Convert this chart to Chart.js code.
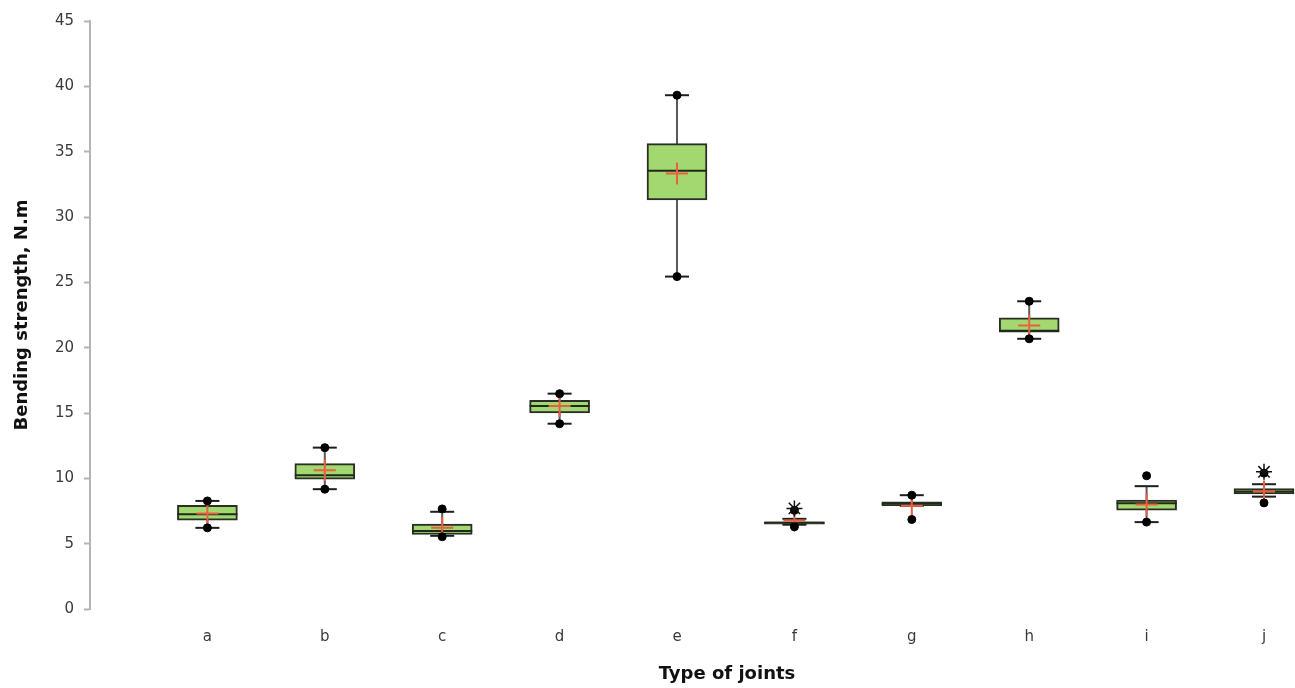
<!DOCTYPE html>
<html>
<head>
<meta charset="utf-8">
<script src="https://cdn.jsdelivr.net/npm/chart.js@4/dist/chart.umd.min.js"></script>
<style>
  html, body { margin: 0; padding: 0; background: #fff; overflow: hidden; }
  /* canvas runs past the right and top edges so the plot sits where the original does */
  #wrap { width: 1396px; height: 699px; margin-top: -11px; }
</style>
</head>
<body>
<div id="wrap"><canvas id="boxChart"></canvas></div>
<script>
const categories = ["a", "b", "c", "d", "e", "f", "g", "h", "i", "j"];
const q1 = [6.8, 9.93, 5.7, 15.0, 31.3, 6.5, 7.9, 21.18, 7.56, 8.8];
const q3 = [7.94, 11.13, 6.49, 15.97, 35.62, 6.68, 8.2, 22.28, 8.33, 9.22];
const medians = [7.26, 10.24, 5.96, 15.53, 33.54, 6.6, 8.05, 21.3, 8.1, 9.0];
const means = [7.3, 10.62, 6.21, 15.53, 33.33, 6.78, 7.9, 21.7, 8.0, 9.0];
const whiskerLow = [6.21, 9.17, 5.6, 14.18, 25.44, 6.45, 7.9, 20.68, 6.65, 8.6];
const whiskerHigh = [8.27, 12.35, 7.44, 16.48, 39.32, 6.9, 8.71, 23.55, 9.4, 9.55];
const minPoints = [6.21, 9.17, 5.53, 14.18, 25.44, 6.29, 6.85, 20.68, 6.65, 8.12];
const maxPoints = [8.27, 12.35, 7.66, 16.48, 39.32, 7.55, 8.71, 23.55, 10.2, 10.4];
const outlierCat = [6, 10];
const outlierVal = [7.7, 10.5];
const yTicks = [0, 5, 10, 15, 20, 25, 30, 35, 40, 45];

const pos = (i) => i + 1;
const pts = (arr) => arr.map((v, i) => ({ x: pos(i), y: v }));

// whisker segments, broken by null points
const whiskerData = [];
categories.forEach((c, i) => {
  whiskerData.push({ x: pos(i), y: whiskerLow[i] });
  whiskerData.push({ x: pos(i), y: whiskerHigh[i] });
  whiskerData.push({ x: pos(i), y: null });
});

const axisGray = "#b4b4b4";
const textColor = "#3a3a3a";
const tickFont = { family: "DejaVu Sans", size: 15 };
const titleFont = { family: "DejaVu Sans", size: 18, weight: "bold" };

new Chart(document.getElementById("boxChart"), {
  type: "bar",
  data: {
    datasets: [
      {
        type: "scatter",
        data: whiskerData,
        showLine: true,
        spanGaps: false,
        borderColor: "#5a5a5a",
        borderWidth: 2,
        pointRadius: 0,
        order: 6,
      },
      {
        type: "bar",
        data: categories.map((c, i) => ({ x: pos(i), y: [q1[i], q3[i]] })),
        backgroundColor: "#a2d86f",
        borderColor: "#2a2f26",
        borderWidth: 2,
        borderSkipped: false,
        barThickness: 60,
        order: 5,
      },
      {
        type: "scatter",
        data: pts(whiskerLow).concat(pts(whiskerHigh)),
        pointStyle: "line",
        pointRadius: 12,
        borderColor: "#1e1e1e",
        borderWidth: 2,
        order: 4,
      },
      {
        type: "scatter",
        data: pts(medians),
        pointStyle: "line",
        pointRadius: 30,
        borderColor: "#1f2a18",
        borderWidth: 2,
        order: 3,
      },
      {
        type: "scatter",
        data: pts(means),
        pointStyle: "cross",
        pointRadius: 11,
        borderColor: "#ec5e43",
        borderWidth: 2,
        order: 2,
      },
      {
        type: "scatter",
        data: pts(minPoints).concat(pts(maxPoints)),
        pointStyle: "circle",
        pointRadius: 4,
        backgroundColor: "#000",
        borderColor: "#000",
        borderWidth: 1,
        order: 1,
      },
      {
        type: "scatter",
        data: outlierCat.map((c, i) => ({ x: c, y: outlierVal[i] })),
        pointStyle: "star",
        pointRadius: 8,
        borderColor: "#111",
        borderWidth: 1.5,
        order: 0,
      },
    ],
  },
  options: {
    responsive: true,
    maintainAspectRatio: false,
    animation: false,
    events: [],
    layout: { padding: 0 },
    plugins: {
      legend: { display: false },
      tooltip: { enabled: false },
    },
    scales: {
      x: {
        type: "linear",
        offset: false,
        min: 0,
        max: 1274 / 117.4,
        afterBuildTicks: (s) => {
          s.ticks = categories.map((c, i) => ({ value: pos(i) }));
        },
        afterFit: (s) => { s.height = 79; },
        ticks: {
          autoSkip: false,
          maxRotation: 0,
          padding: 11,
          color: textColor,
          font: tickFont,
          callback: (v) => categories[v - 1] || "",
        },
        grid: { display: false },
        border: { display: false },
        title: {
          display: true,
          text: "Type of joints",
          color: "#111",
          font: titleFont,
          padding: { top: 0, bottom: 3 },
        },
      },
      y: {
        min: 0,
        max: 45,
        afterBuildTicks: (s) => {
          s.ticks = yTicks.map((v) => ({ value: v }));
        },
        afterFit: (s) => { s.width = 90; },
        ticks: {
          padding: 10,
          color: textColor,
          font: tickFont,
        },
        grid: {
          drawOnChartArea: false,
          color: axisGray,
          tickLength: 6,
          tickWidth: 2,
        },
        border: { color: axisGray, width: 2 },
        title: {
          display: true,
          text: "Bending strength, N.m",
          color: "#111",
          font: titleFont,
          padding: { top: 12, bottom: 0 },
        },
      },
    },
  },
});
</script>
</body>
</html>
